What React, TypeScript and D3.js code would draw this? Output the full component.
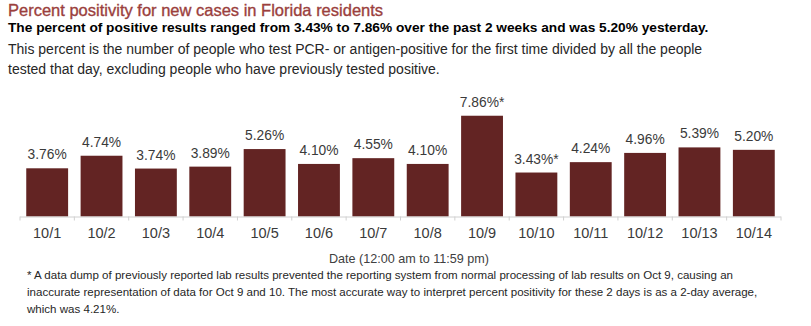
import React from "react";
import * as d3 from "d3";

const categories = ["10/1","10/2","10/3","10/4","10/5","10/6","10/7","10/8","10/9","10/10","10/11","10/12","10/13","10/14"];
const values = [3.76,4.74,3.74,3.89,5.26,4.10,4.55,4.10,7.86,3.43,4.24,4.96,5.39,5.20];
const labels = ["3.76%","4.74%","3.74%","3.89%","5.26%","4.10%","4.55%","4.10%","7.86%*","3.43%*","4.24%","4.96%","5.39%","5.20%"];

const title = "Percent positivity for new cases in Florida residents";
const subtitle = "The percent of positive results ranged from 3.43% to 7.86% over the past 2 weeks and was 5.20% yesterday.";
const desc = [
  "This percent is the number of people who test PCR- or antigen-positive for the first time divided by all the people",
  "tested that day, excluding people who have previously tested positive.",
];
const axisTitle = "Date (12:00 am to 11:59 pm)";
const footnote = [
  "* A data dump of previously reported lab results prevented the reporting system from normal processing of lab results on Oct 9, causing an",
  "inaccurate representation of data for Oct 9 and 10. The most accurate way to interpret percent positivity for these 2 days is as a 2-day average,",
  "which was 4.21%.",
];

const W = 811, H = 326;
const baseY = 216.5;
const x0 = 20, x1 = 781;
const font = "'Liberation Sans', Arial, sans-serif";

export default function App() {
  const x = d3.scaleBand<string>().domain(categories).range([x0, x1]).paddingInner(0.23).paddingOuter(0.115);
  const y = d3.scaleLinear().domain([0, 9]).range([baseY, baseY - 9 * 12.82]);
  const bounds = d3.range(categories.length + 1).map((i) => x0 + i * ((x1 - x0) / categories.length));
  return (
    <svg width={W} height={H} style={{ position: "absolute", left: 0, top: 0, background: "#fff" }}>
      <text x={8} y={15.5} fill="#9b3f3d" stroke="#9b3f3d" strokeWidth={0.35} fontFamily={font} fontSize={16.5}>{title}</text>
      <text x={8} y={32} fill="#000" fontFamily={font} fontWeight="bold" fontSize={13.7}>{subtitle}</text>
      {desc.map((d, i) => (
        <text key={i} x={8} y={54 + i * 19.5} fill="#262626" fontFamily={font} fontSize={14}>{d}</text>
      ))}
      {categories.map((c, i) => (
        <g key={c}>
          <rect x={x(c)} y={y(values[i])} width={x.bandwidth()} height={baseY - y(values[i])} fill="#632423" />
          <text x={(x(c) as number) + x.bandwidth() / 2} y={y(values[i]) - 9} textAnchor="middle" fill="#3a3a3a" fontFamily={font} fontSize={13.8}>{labels[i]}</text>
          <text x={(x(c) as number) + x.bandwidth() / 2} y={238} textAnchor="middle" fill="#3a3a3a" fontFamily={font} fontSize={14.5}>{c}</text>
        </g>
      ))}
      <line x1={x0} x2={x1} y1={baseY + 0.5} y2={baseY + 0.5} stroke="#d0d0d0" strokeWidth={1} />
      {bounds.map((b, i) => (
        <line key={i} x1={b} x2={b} y1={baseY} y2={baseY + 4} stroke="#d0d0d0" strokeWidth={1} />
      ))}
      <text x={409} y={263} textAnchor="middle" fill="#404040" fontFamily={font} fontSize={12.6}>{axisTitle}</text>
      {footnote.map((f, i) => (
        <text key={i} x={27} y={279 + i * 16.8} fill="#262626" fontFamily={font} fontSize={11.55}>{f}</text>
      ))}
    </svg>
  );
}
